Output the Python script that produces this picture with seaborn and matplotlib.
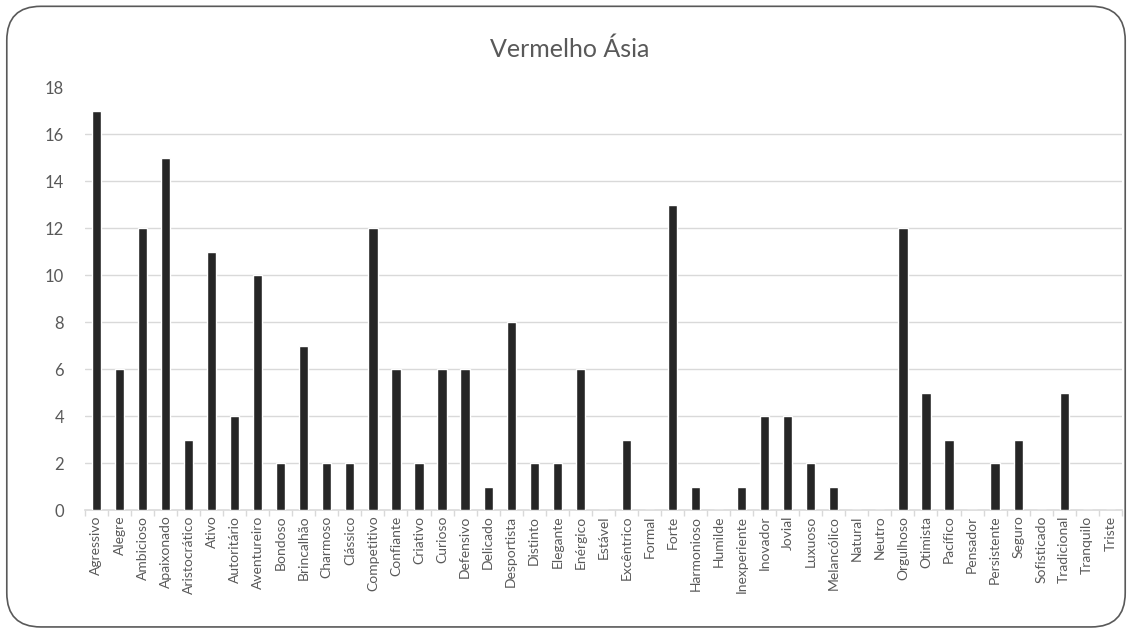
import numpy as np
import pandas as pd
import matplotlib
matplotlib.use("Agg")
import matplotlib.pyplot as plt
import seaborn as sns
from matplotlib.patches import FancyBboxPatch

# Data
categories = ["Agressivo", "Alegre", "Ambicioso", "Apaixonado", "Aristocrático", "Ativo",
              "Autoritário", "Aventureiro", "Bondoso", "Brincalhão", "Charmoso", "Clássico",
              "Competitivo", "Confiante", "Criativo", "Curioso", "Defensivo", "Delicado",
              "Desportista", "Distinto", "Elegante", "Enérgico", "Estável", "Excêntrico",
              "Formal", "Forte", "Harmonioso", "Humilde", "Inexperiente", "Inovador",
              "Jovial", "Luxuoso", "Melancólico", "Natural", "Neutro", "Orgulhoso",
              "Otimista", "Pacífico", "Pensador", "Persistente", "Seguro", "Sofisticado",
              "Tradicional", "Tranquilo", "Triste"]
values = [17, 6, 12, 15, 3, 11, 4, 10, 2, 7, 2, 2, 12, 6, 2, 6, 6, 1, 8, 2, 2, 6, 0, 3,
          0, 13, 1, 0, 1, 4, 4, 2, 1, 0, 0, 12, 5, 3, 0, 2, 3, 0, 5, 0, 0]
yticks = [0, 2, 4, 6, 8, 10, 12, 14, 16, 18]

sns.set_theme(style="white")
plt.rcParams['font.family'] = ['Lato', 'DejaVu Sans']

df = pd.DataFrame({"cat": categories, "val": values})

fig = plt.figure(figsize=(11.32, 6.32), dpi=100)
ax = fig.add_axes([0.075, 0.193, 0.916, 0.669])

# rounded frame around the chart
frame = FancyBboxPatch((0.006, 0.008), 0.988, 0.982, boxstyle="round,pad=0,rounding_size=0.03",
                       transform=fig.transFigure, facecolor="white", edgecolor="#595959",
                       linewidth=1.2, mutation_aspect=1132 / 632, zorder=-10)
fig.patches.append(frame)

sns.barplot(data=df, x="cat", y="val", color="#262626", width=0.4, ax=ax,
            saturation=1, zorder=3)

ax.set_ylim(0, 18)
ax.set_xlim(-0.5, len(categories) - 0.5)
ax.set_yticks(yticks)
for y in yticks[1:-1]:
    ax.axhline(y, color="#d9d9d9", linewidth=1, zorder=1)

for s in ["top", "right", "left"]:
    ax.spines[s].set_visible(False)
ax.spines["bottom"].set_color("#d9d9d9")
ax.spines["bottom"].set_linewidth(1.2)

ax.set_xticks(np.arange(len(categories)))
ax.set_xticklabels(categories, rotation=90, fontsize=10, color="#595959")
ax.tick_params(axis="x", length=0, pad=4)
ax.set_xticks(np.arange(-0.5, len(categories)), minor=True)
ax.tick_params(axis="x", which="minor", length=4, color="#d9d9d9", width=1, bottom=True)
ax.tick_params(axis="y", labelsize=12, colors="#595959", length=0, pad=15)
ax.set_xlabel("")
ax.set_ylabel("")

fig.text(0.503, 0.922, "Vermelho Ásia", ha="center", va="center", fontsize=18, color="#595959")

fig.savefig("out.png", dpi=100)
